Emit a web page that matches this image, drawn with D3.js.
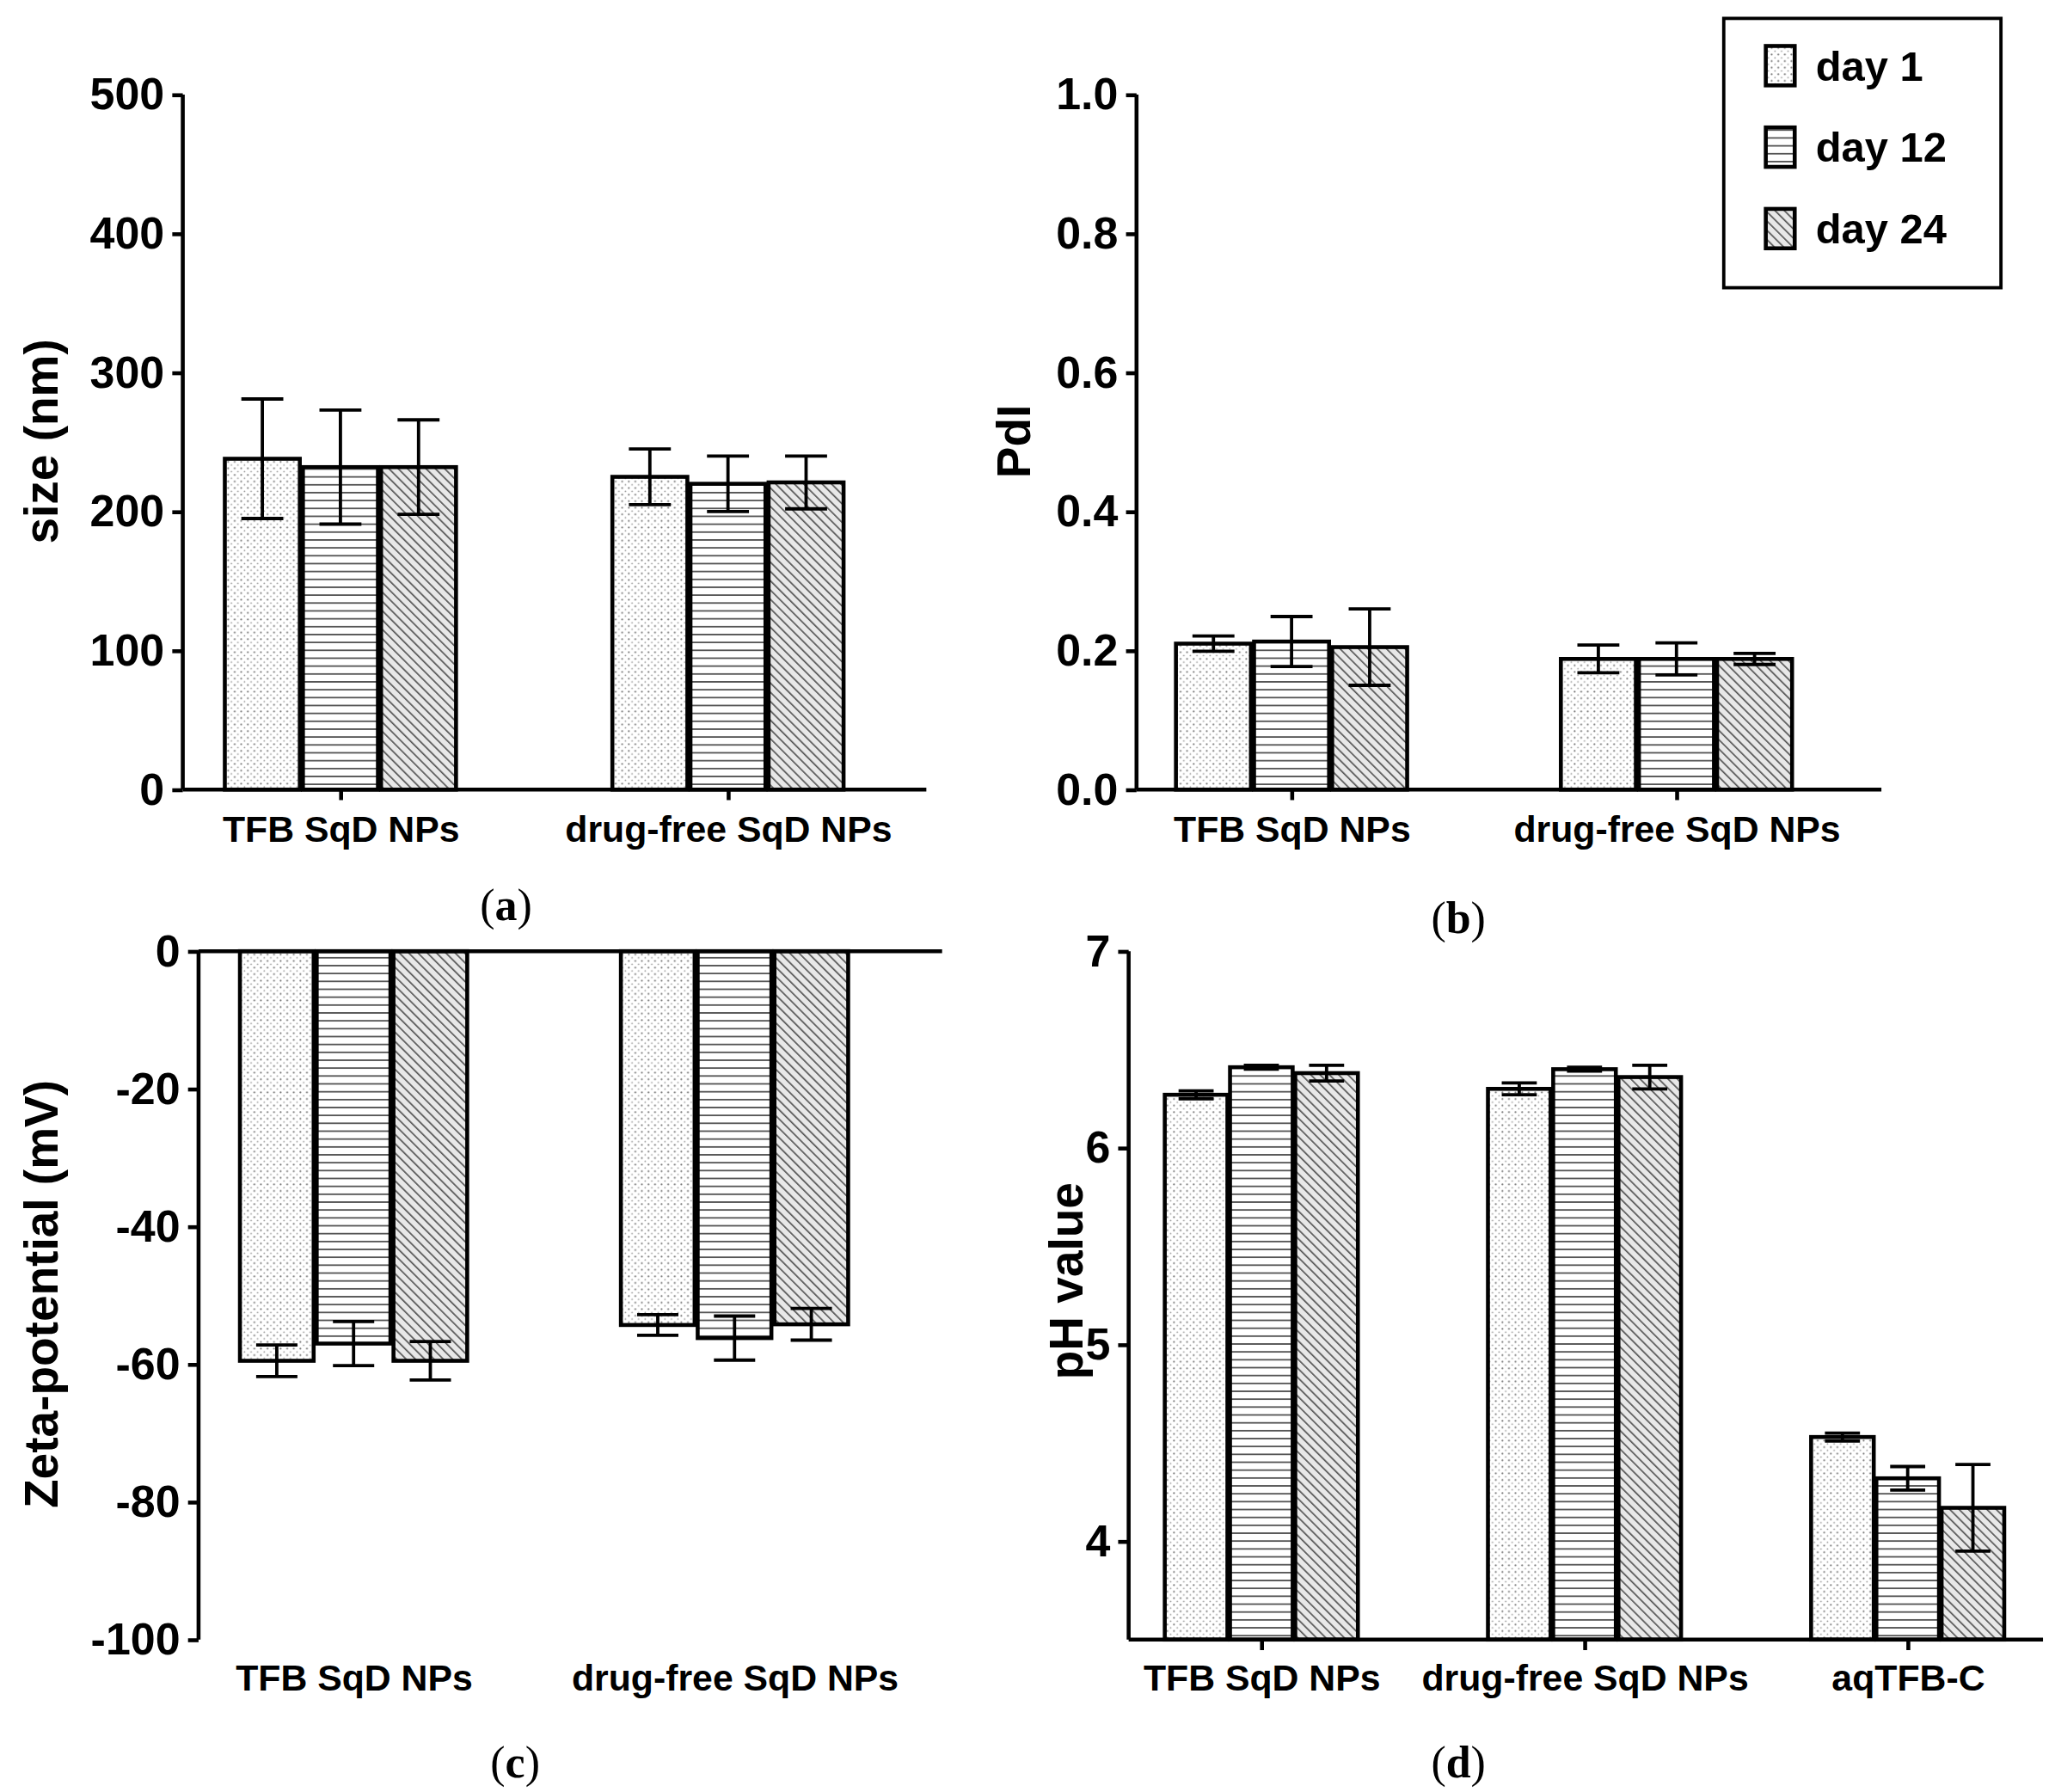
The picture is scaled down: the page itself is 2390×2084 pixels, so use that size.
<!DOCTYPE html>
<html><head><meta charset="utf-8">
<script src="https://cdn.jsdelivr.net/npm/d3@7"></script>
<style>body{margin:0;background:#fff}</style>
</head><body><main></main>
<script>
// data
var series = ["day 1", "day 12", "day 24"];
var catsAB = ["TFB SqD NPs", "drug-free SqD NPs"];
var catsD = ["TFB SqD NPs", "drug-free SqD NPs", "aqTFB-C"];

var sizeMean = [[238, 232, 232], [225, 220, 221]];
var sizeErr = [[43, 41, 34], [20, 20, 19]];
var pdiMean = [[0.210, 0.213, 0.205], [0.188, 0.188, 0.188]];
var pdiErr = [[0.011, 0.036, 0.055], [0.020, 0.023, 0.008]];
var zetaMean = [[-59.5, -57, -59.5], [-54.3, -56.2, -54.2]];
var zetaErr = [[2.3, 3.2, 2.8], [1.5, 3.2, 2.3]];
var phMean = [[6.27, 6.41, 6.38], [6.30, 6.40, 6.36], [4.53, 4.32, 4.17]];
var phErr = [[0.02, 0.01, 0.04], [0.03, 0.01, 0.06], [0.02, 0.06, 0.22]];

var ticksA = [0, 100, 200, 300, 400, 500];
var ticksB = [0, 0.2, 0.4, 0.6, 0.8, 1.0];
var ticksC = [0, -20, -40, -60, -80, -100];
var ticksD = [4, 5, 6, 7];

var svg = d3.select("main").append("svg")
  .attr("width", 2390).attr("height", 2084)
  .attr("viewBox", "0 0 1560 1364");

var defs = svg.append("defs");
var p1 = defs.append("pattern").attr("id", "pat0").attr("patternUnits", "userSpaceOnUse")
  .attr("width", 5).attr("height", 5);
p1.append("rect").attr("width", 5).attr("height", 5).attr("fill", "#fff");
p1.append("circle").attr("cx", 1.5).attr("cy", 1.5).attr("r", 0.7).attr("fill", "#777");
p1.append("circle").attr("cx", 4).attr("cy", 4).attr("r", 0.6).attr("fill", "#999");
var p2 = defs.append("pattern").attr("id", "pat1").attr("patternUnits", "userSpaceOnUse")
  .attr("width", 6).attr("height", 6);
p2.append("rect").attr("width", 6).attr("height", 6).attr("fill", "#fff");
p2.append("line").attr("x1", 0).attr("x2", 6).attr("y1", 3).attr("y2", 3)
  .attr("stroke", "#555").attr("stroke-width", 1.2);
var p3 = defs.append("pattern").attr("id", "pat2").attr("patternUnits", "userSpaceOnUse")
  .attr("width", 5).attr("height", 5).attr("patternTransform", "rotate(-45)");
p3.append("rect").attr("width", 5).attr("height", 5).attr("fill", "#e8e8e8");
p3.append("line").attr("x1", 0).attr("x2", 0).attr("y1", 0).attr("y2", 5)
  .attr("stroke", "#555").attr("stroke-width", 2.2);

var font = "'Liberation Sans', Arial, sans-serif";
function hy(f) { return function (d) { return f(d).replace("\u2212", "-"); }; }

function panel(o) {
  var g = svg.append("g");
  var y = d3.scaleLinear().domain(o.domain).range([o.y0, o.y1]);
  var x = d3.scalePoint().domain(o.cats).range([o.centers[0], o.centers[o.centers.length - 1]]);
  var xs = d3.scaleBand().domain(series).range([-o.gw / 2, o.gw / 2]).paddingInner(0.04);
  var base = y(o.base);

  o.cats.forEach(function (c, ci) {
    series.forEach(function (s, si) {
      var v = o.mean[ci][si], e = o.err[ci][si];
      var bx = x(c) + xs(s), bw = xs.bandwidth();
      g.append("rect").attr("x", bx).attr("width", bw)
        .attr("y", Math.min(y(v), base)).attr("height", Math.abs(y(v) - base))
        .attr("fill", "url(#pat" + si + ")").attr("stroke", "#000").attr("stroke-width", 3);
      var cx = bx + bw / 2, cap = bw * 0.28;
      var eb = g.append("g").attr("stroke", "#000").attr("stroke-width", 2.5);
      eb.append("line").attr("x1", cx).attr("x2", cx).attr("y1", y(v - e)).attr("y2", y(v + e));
      [v - e, v + e].forEach(function (t) {
        eb.append("line").attr("x1", cx - cap).attr("x2", cx + cap).attr("y1", y(t)).attr("y2", y(t));
      });
    });
  });

  var ya = g.append("g").attr("transform", "translate(" + o.ax + ",0)")
    .call(d3.axisLeft(y).tickValues(o.ticks).tickSize(8).tickPadding(6).tickFormat(hy(o.fmt)));
  ya.select(".domain").attr("d", "M0," + o.y0 + "V" + o.yTop);
  var xa = g.append("g").attr("transform", "translate(0," + base + ")")
    .call(d3.axisBottom(x).tickSize(o.xTick).tickPadding(10));
  xa.select(".domain").attr("d", "M" + o.ax + ",0H" + o.xEnd);
  [ya, xa].forEach(function (a) {
    a.selectAll("path,line").attr("stroke", "#000").attr("stroke-width", 3);
    a.selectAll("text").attr("font-family", font).attr("font-weight", "bold").attr("fill", "#000");
  });
  ya.selectAll("text").attr("font-size", 34);
  xa.selectAll("text").attr("font-size", 28);
  xa.selectAll("text").attr("y", o.xLabY - base).attr("dy", "0.35em");

  g.append("text").attr("transform", "translate(" + o.lx + "," + o.ly + ") rotate(-90)")
    .attr("text-anchor", "middle").attr("font-family", font).attr("font-weight", "bold")
    .attr("font-size", 36).text(o.label);
  var pl = g.append("text").attr("x", o.px).attr("y", o.py).attr("text-anchor", "middle")
    .attr("font-family", "'Liberation Serif', serif").attr("font-size", 34);
  pl.append("tspan").text("(");
  pl.append("tspan").attr("font-weight", "bold").text(o.tag);
  pl.append("tspan").text(")");
}

panel({cats: catsAB, mean: sizeMean, err: sizeErr, domain: [0, 500], y0: 601, y1: 72, yTop: 72, base: 0,
  ticks: ticksA, fmt: d3.format("d"), ax: 137, xEnd: 703, centers: [257, 552], gw: 176, xTick: 8,
  label: "size (nm)", lx: 42, ly: 336, px: 383, py: 700, tag: "a", xLabY: 631});
panel({cats: catsAB, mean: pdiMean, err: pdiErr, domain: [0, 1], y0: 601, y1: 72, yTop: 72, base: 0,
  ticks: ticksB, fmt: d3.format(".1f"), ax: 863, xEnd: 1430, centers: [981, 1274], gw: 176, xTick: 8,
  label: "PdI", lx: 782, ly: 336, px: 1108, py: 710, tag: "b", xLabY: 631});
panel({cats: catsAB, mean: zetaMean, err: zetaErr, domain: [0, -100], y0: 724, y1: 1248, yTop: 1248, base: 0,
  ticks: ticksC, fmt: d3.format("d"), ax: 149, xEnd: 715, centers: [267, 557], gw: 173, xTick: 0,
  label: "Zeta-potential (mV)", lx: 42, ly: 985, px: 390, py: 1353, tag: "c", xLabY: 1277});
panel({cats: catsD, mean: phMean, err: phErr, domain: [3.5, 7], y0: 1248, y1: 724, yTop: 724, base: 3.5,
  ticks: ticksD, fmt: d3.format("d"), ax: 857, xEnd: 1553, centers: [958, 1202, 1450], gw: 147, xTick: 8,
  label: "pH value", lx: 822, ly: 975, px: 1108, py: 1353, tag: "d", xLabY: 1277});

// legend
var lg = svg.append("g");
lg.append("rect").attr("x", 1310).attr("y", 14).attr("width", 211).attr("height", 205)
  .attr("fill", "#fff").attr("stroke", "#000").attr("stroke-width", 2.5);
series.forEach(function (s, i) {
  var yy = 50 + i * 62;
  lg.append("rect").attr("x", 1342).attr("y", yy - 15).attr("width", 22).attr("height", 30)
    .attr("fill", "url(#pat" + i + ")").attr("stroke", "#000").attr("stroke-width", 3);
  lg.append("text").attr("x", 1380).attr("y", yy).attr("dy", "0.35em")
    .attr("font-family", font).attr("font-weight", "bold").attr("font-size", 32).text(s);
});
</script></body></html>
